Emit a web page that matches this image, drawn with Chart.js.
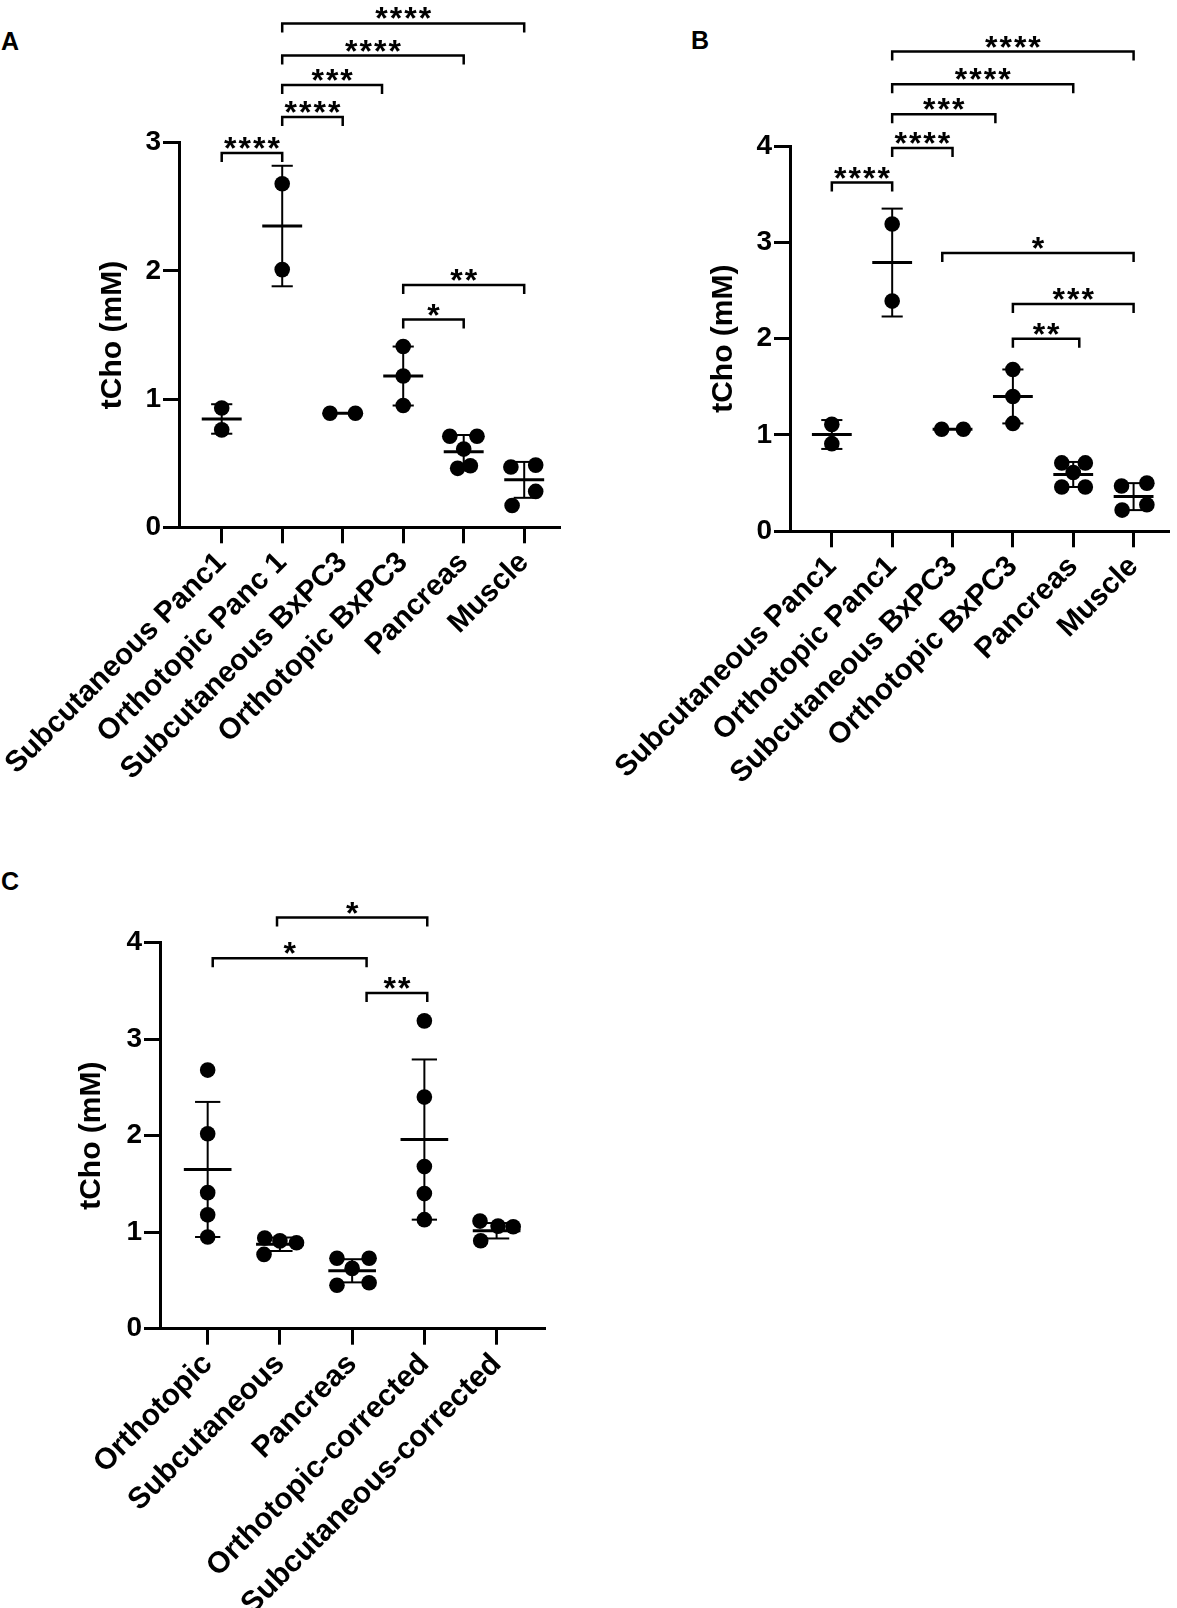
<!DOCTYPE html>
<html>
<head>
<meta charset="utf-8">
<script src="https://cdn.jsdelivr.net/npm/chart.js@4.4.1/dist/chart.umd.min.js"></script>
<style>
  body { margin: 0; background: #fff; }
  #page { position: relative; width: 1177px; height: 1608px; font-family: "Liberation Sans", Arial, sans-serif; }
  canvas { position: absolute; }
  .letter { position: absolute; font-weight: bold; font-size: 25px; line-height: 25px; color: #000; }
</style>
</head>
<body>
<div id="page">
  <div class="letter" style="left:1px; top:29px">A</div>
  <div class="letter" style="left:691px; top:28px">B</div>
  <div class="letter" style="left:1px; top:869px">C</div>
  <canvas id="chartA" width="590" height="790" style="left:0; top:0"></canvas>
  <canvas id="chartB" width="587" height="790" style="left:590px; top:0"></canvas>
  <canvas id="chartC" width="590" height="808" style="left:0; top:800px"></canvas>
</div>
<script>
// Panel A
const catsA = ['Subcutaneous Panc1', 'Orthotopic Panc 1', 'Subcutaneous BxPC3', 'Orthotopic BxPC3', 'Pancreas', 'Muscle'];
const valuesA = [
    [0.93, 0.76],
    [2.68, 2.01],
    [0.89, 0.89],
    [1.41, 1.18, 0.95],
    [0.71, 0.71, 0.61, 0.46, 0.48],
    [0.47, 0.485, 0.28, 0.17]
];
const jitterA = [[0, 0], [0, 0], [-0.21, 0.21], [0, 0, 0], [-0.23, 0.22, 0, -0.1, 0.11], [-0.22, 0.19, 0.19, -0.2]];
const meanA = [0.845, 2.35, 0.89, 1.18, 0.59, 0.37];
const sdA = [0.115, 0.47, 0, 0.23, 0.13, 0.14];
const yTicksA = [0, 1, 2, 3];
// [from group, to group, height, label]
const bracketsA = [
    [0, 1, 2.92, '****'],
    [1, 2, 3.20, '****'],
    [1, 2.65, 3.45, '***'],
    [1, 4, 3.68, '****'],
    [1, 5, 3.93, '****'],
    [3, 5, 1.89, '**'],
    [3, 4, 1.62, '*']
];

// Panel B
const catsB = ['Subcutaneous Panc1', 'Orthotopic Panc1', 'Subcutaneous BxPC3', 'Orthotopic BxPC3', 'Pancreas', 'Muscle'];
const valuesB = [
    [1.11, 0.91],
    [3.19, 2.39],
    [1.06, 1.06],
    [1.68, 1.40, 1.12],
    [0.71, 0.71, 0.61, 0.46, 0.46],
    [0.47, 0.50, 0.275, 0.22]
];
const jitterB = [[0, 0], [0, 0], [-0.18, 0.18], [0, 0, 0], [-0.19, 0.2, 0, -0.19, 0.2], [-0.2, 0.22, 0.22, -0.19]];
const meanB = [1.005, 2.79, 1.06, 1.40, 0.59, 0.36];
const sdB = [0.15, 0.56, 0, 0.28, 0.13, 0.14];
const yTicksB = [0, 1, 2, 3, 4];
const bracketsB = [
    [0, 1, 3.62, '****'],
    [1, 2, 3.98, '****'],
    [1, 2.71, 4.33, '***'],
    [1, 4, 4.64, '****'],
    [1, 5, 4.98, '****'],
    [1.83, 5, 2.89, '*'],
    [3, 5, 2.36, '***'],
    [3, 4.1, 2.00, '**']
];

// Panel C
const catsC = ['Orthotopic', 'Subcutaneous', 'Pancreas', 'Orthotopic-corrected', 'Subcutaneous-corrected'];
const valuesC = [
    [2.68, 2.02, 1.41, 1.18, 0.95],
    [0.94, 0.91, 0.89, 0.77],
    [0.73, 0.73, 0.625, 0.45, 0.476],
    [3.19, 2.40, 1.68, 1.40, 1.13],
    [1.115, 1.063, 1.056, 0.911]
];
const jitterC = [[0, 0, 0, 0, 0], [-0.21, 0, 0.23, -0.22], [-0.21, 0.235, 0, -0.21, 0.235], [0, 0, 0, 0, 0], [-0.23, 0.02, 0.23, -0.22]];
const meanC = [1.65, 0.875, 0.60, 1.96, 1.015];
const sdC = [0.70, 0.07, 0.12, 0.83, 0.08];
const yTicksC = [0, 1, 2, 3, 4];
const bracketsC = [
    [0.07, 2.2, 3.84, '*'],
    [0.96, 3.04, 4.26, '*'],
    [2.2, 3.04, 3.48, '**']
];

const FONT = '"Liberation Sans", Arial, sans-serif';

// mean / SD bars and significance brackets
const statsPlugin = {
    id: 'stats',
    afterDatasetsDraw(chart, args, opts) {
        const ctx = chart.ctx;
        const x = chart.scales.x, y = chart.scales.y;
        const seg = function(x1, y1, x2, y2) {
            ctx.beginPath();
            ctx.moveTo(x1, y1);
            ctx.lineTo(x2, y2);
            ctx.stroke();
        };
        ctx.save();
        ctx.strokeStyle = '#000';
        ctx.fillStyle = '#000';
        opts.mean.forEach(function(m, i) {
            const cx = x.getPixelForValue(i);
            const half = x.getPixelForValue(i + 0.33) - cx;
            const cap = x.getPixelForValue(i + 0.175) - cx;
            const py = y.getPixelForValue(m);
            if (opts.sd[i] > 0) {
                const top = y.getPixelForValue(m + opts.sd[i]);
                const bot = y.getPixelForValue(m - opts.sd[i]);
                ctx.lineWidth = 2;
                seg(cx, top, cx, bot);
                seg(cx - cap, top, cx + cap, top);
                seg(cx - cap, bot, cx + cap, bot);
            }
            ctx.lineWidth = 3;
            seg(cx - half, py, cx + half, py);
        });

        ctx.font = 'bold 32px ' + FONT;
        ctx.textAlign = 'center';
        ctx.textBaseline = 'alphabetic';
        ctx.letterSpacing = '2px';
        ctx.lineWidth = 2.5;
        opts.brackets.forEach(function(b) {
            const x1 = x.getPixelForValue(b[0]);
            const x2 = x.getPixelForValue(b[1]);
            const by = y.getPixelForValue(b[2]);
            ctx.beginPath();
            ctx.moveTo(x1, by + 9);
            ctx.lineTo(x1, by);
            ctx.lineTo(x2, by);
            ctx.lineTo(x2, by + 9);
            ctx.stroke();
            ctx.fillText(b[3], (x1 + x2) / 2 + 1, by + 6);
        });
        ctx.restore();
    }
};

function makePanel(id, cats, values, jitter, means, sds, yTicks, brackets, geo) {
    const points = [];
    values.forEach(function(vals, i) {
        vals.forEach(function(v, j) {
            points.push({ x: i + jitter[i][j], y: v });
        });
    });

    new Chart(document.getElementById(id), {
        type: 'scatter',
        data: {
            datasets: [{
                data: points,
                pointRadius: 7.8,
                pointHoverRadius: 7.8,
                backgroundColor: '#000',
                borderColor: '#000',
                borderWidth: 0,
                clip: false
            }]
        },
        options: {
            responsive: false,
            animation: false,
            events: [],
            layout: { padding: geo.padding },
            plugins: {
                legend: { display: false },
                tooltip: { enabled: false },
                stats: { mean: means, sd: sds, brackets: brackets }
            },
            scales: {
                x: {
                    type: 'linear',
                    min: geo.xMin,
                    max: geo.xMax,
                    afterBuildTicks: function(s) {
                        s.ticks = cats.map(function(c, i) { return { value: i }; });
                    },
                    afterFit: function(s) {
                        s.height = geo.xHeight;
                        s.paddingLeft = 0;
                        s.paddingRight = 0;
                    },
                    ticks: {
                        autoSkip: false,
                        minRotation: 45,
                        maxRotation: 45,
                        padding: 2,
                        color: '#000',
                        font: { family: FONT, size: geo.labelSize, weight: 'bold' },
                        callback: function(value) { return cats[value]; }
                    },
                    grid: {
                        drawOnChartArea: false,
                        drawTicks: true,
                        tickLength: 16,
                        tickWidth: 3,
                        tickColor: '#000'
                    },
                    border: { display: true, color: '#000', width: 3 }
                },
                y: {
                    min: 0,
                    max: geo.yMax,
                    afterBuildTicks: function(s) {
                        s.ticks = yTicks.map(function(v) { return { value: v }; });
                    },
                    afterFit: function(s) {
                        s.width = geo.yWidth;
                        s.paddingTop = 0;
                        s.paddingBottom = 0;
                    },
                    title: {
                        display: true,
                        text: 'tCho (mM)',
                        color: '#000',
                        padding: 0,
                        font: { family: FONT, size: 30, weight: 'bold' }
                    },
                    ticks: {
                        padding: 2,
                        color: '#000',
                        font: { family: FONT, size: 28, weight: 'bold' }
                    },
                    grid: {
                        drawOnChartArea: false,
                        drawTicks: true,
                        tickLength: 16,
                        tickWidth: 3,
                        tickColor: '#000'
                    },
                    border: { display: true, color: '#000', width: 3 }
                }
            }
        },
        plugins: [statsPlugin]
    });
}

makePanel('chartA', catsA, valuesA, jitterA, meanA, sdA, yTicksA, bracketsA, {
    padding: { left: 95, top: 142.7, right: 29.5, bottom: 0 },
    yWidth: 84, xHeight: 262.7, xMin: -0.706, xMax: 5.6, yMax: 3, labelSize: 29.5
});
makePanel('chartB', catsB, valuesB, jitterB, meanB, sdB, yTicksB, bracketsB, {
    padding: { left: 116, top: 146, right: 6, bottom: 0 },
    yWidth: 84, xHeight: 258.7, xMin: -0.693, xMax: 5.59, yMax: 4, labelSize: 29.5
});
makePanel('chartC', catsC, valuesC, jitterC, meanC, sdC, yTicksC, bracketsC, {
    padding: { left: 73.7, top: 142.7, right: 45, bottom: 0 },
    yWidth: 86.3, xHeight: 279.3, xMin: -0.66, xMax: 4.67, yMax: 4, labelSize: 30
});
</script>
</body>
</html>
